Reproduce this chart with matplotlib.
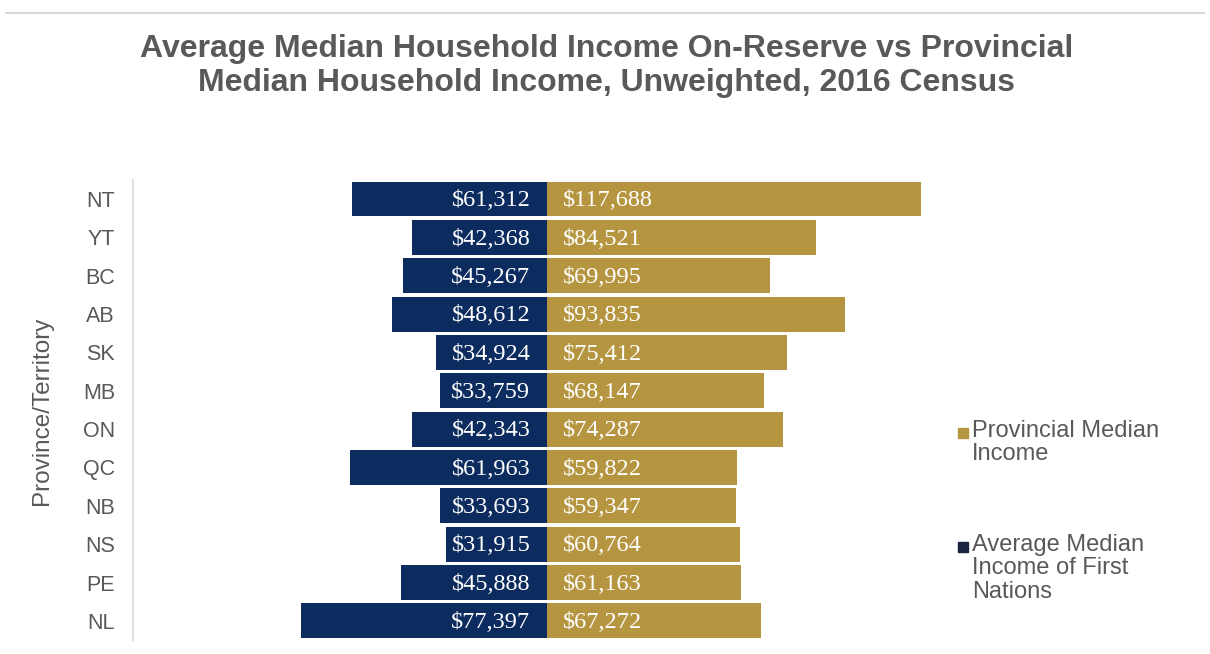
import matplotlib.pyplot as plt
from matplotlib.lines import Line2D

provinces = ['NT', 'YT', 'BC', 'AB', 'SK', 'MB', 'ON', 'QC', 'NB', 'NS', 'PE', 'NL']
first_nations = [61312, 42368, 45267, 48612, 34924, 33759, 42343, 61963, 33693, 31915, 45888, 77397]
provincial = [117688, 84521, 69995, 93835, 75412, 68147, 74287, 59822, 59347, 60764, 61163, 67272]

navy = '#0c2b5e'
gold = '#b5953f'
grey = '#595959'

W, H = 1210, 654
fig = plt.figure(figsize=(W / 100, H / 100), dpi=100)

# axes placed in pixels: left edge at the axis line, center of bars at x=547
px_per_dollar = 0.00318
ax_left, ax_right = 133, 930
ax_top, ax_bottom = 179.8, 640.1
ax = fig.add_axes([ax_left / W, 1 - ax_bottom / H, (ax_right - ax_left) / W, (ax_bottom - ax_top) / H])
ax.set_xlim(-(547 - ax_left) / px_per_dollar, (ax_right - 547) / px_per_dollar)
ax.set_ylim(len(provinces) - 0.5, -0.5)

ypos = list(range(len(provinces)))
ax.barh(ypos, [-v for v in first_nations], height=0.91, color=navy)
ax.barh(ypos, provincial, height=0.91, color=gold)

for y, fn, pv in zip(ypos, first_nations, provincial):
    ax.annotate(f'${fn:,}', (0, y), xytext=(-12, -1.2), textcoords='offset points',
                ha='right', va='center', color='white', fontsize=17.5, family='Liberation Serif')
    ax.annotate(f'${pv:,}', (0, y), xytext=(11.5, -1.2), textcoords='offset points',
                ha='left', va='center', color='white', fontsize=17.5, family='Liberation Serif')

ax.set_yticks(ypos)
ax.set_yticklabels(provinces, fontsize=15.5, color=grey, family='Liberation Sans')
ax.tick_params(axis='y', length=0, pad=13)
ax.set_xticks([])
for side in ['top', 'right', 'bottom']:
    ax.spines[side].set_visible(False)
ax.spines['left'].set_color('#e0e0e0')
ax.spines['left'].set_linewidth(1.5)

fig.text(42 / W, 1 - 411 / H, 'Province/Territory', rotation=90, ha='center', va='center',
         fontsize=17.5, color=grey, family='Liberation Sans')

title_lines = ['Average Median Household Income On-Reserve vs Provincial',
               'Median Household Income, Unweighted, 2016 Census']
for ty, line in zip([49.5, 82.5], title_lines):
    fig.text(607 / W, 1 - ty / H, line, ha='center', va='center', fontsize=23,
             fontweight='bold', color=grey, family='Liberation Sans')

# thin rule at top
fig.add_artist(Line2D([0.005, 0.995], [1 - 13 / H, 1 - 13 / H], transform=fig.transFigure,
                      color='#d8d8d8', lw=1.5))

# legend drawn by hand: marker aligned with first text line
legend_items = [(gold, ['Provincial Median', 'Income'], 431),
                ('#1a2340', ['Average Median', 'Income of First', 'Nations'], 545)]
for color, lines, y0 in legend_items:
    fig.add_artist(Line2D([963 / W], [1 - (y0 + 2) / H], transform=fig.transFigure,
                          marker='s', ls='', color=color, markersize=6.5))
    for i, line in enumerate(lines):
        fig.text(972 / W, 1 - (y0 + i * 23.5) / H, line, ha='left', va='center',
                 fontsize=17, color=grey, family='Liberation Sans')

fig.savefig('out.png', dpi=100)
